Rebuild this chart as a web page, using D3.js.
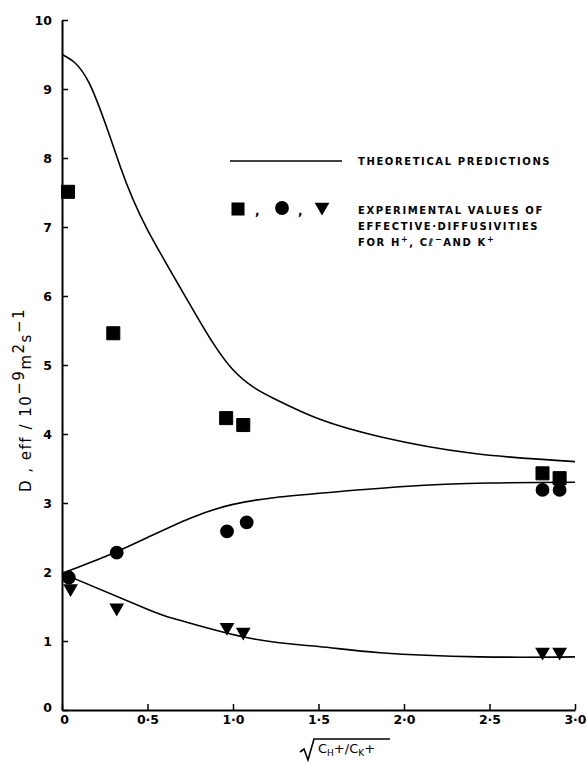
<!DOCTYPE html>
<html>
<head>
<meta charset="utf-8">
<script src="https://cdn.jsdelivr.net/npm/d3@7"></script>
<style>
  html, body { margin: 0; padding: 0; background: #fff; }
  svg { display: block; }
  text { font-family: "DejaVu Sans", "Liberation Sans", sans-serif; fill: #000; }
</style>
</head>
<body>
<svg id="chart" width="586" height="764"></svg>
<script>
// ---- data ----
const xTicks = [0, 0.5, 1.0, 1.5, 2.0, 2.5, 3.0];
const xTickLabels = ["0", "0·5", "1·0", "1·5", "2·0", "2·5", "3·0"];
const yTicks = [0, 1, 2, 3, 4, 5, 6, 7, 8, 9, 10];
const yTickLabels = ["0", "1", "2", "3", "4", "5", "6", "7", "8", "9", "10"];

// theoretical predictions
const theoHx = [0, 0.16, 0.34, 0.5, 0.75, 1.0, 1.25, 1.5, 1.86, 2.4, 3.0];
const theoHy = [9.5, 9.08, 7.88, 6.96, 5.87, 4.93, 4.5, 4.22, 3.96, 3.72, 3.6];
const theoClx = [0, 0.25, 0.5, 0.75, 1.0, 1.25, 1.5, 2.0, 2.5, 3.0];
const theoCly = [1.98, 2.22, 2.5, 2.78, 2.98, 3.08, 3.14, 3.24, 3.29, 3.3];
const theoKx = [0, 0.51, 0.69, 1.1, 1.5, 1.86, 2.44, 3.0];
const theoKy = [1.98, 1.45, 1.3, 1.04, 0.92, 0.83, 0.77, 0.77];

// experimental values
const expHx = [0.035, 0.30, 0.96, 1.06, 2.81, 2.91];
const expHy = [7.51, 5.46, 4.23, 4.13, 3.43, 3.36];
const expClx = [0.04, 0.32, 0.965, 1.08, 2.81, 2.91];
const expCly = [1.92, 2.28, 2.59, 2.72, 3.19, 3.19];
const expKx = [0.05, 0.32, 0.965, 1.06, 2.81, 2.91];
const expKy = [1.76, 1.48, 1.2, 1.13, 0.84, 0.84];

// ---- drawing ----
const svg = d3.select("#chart");
const x = d3.scaleLinear().domain([0, 3]).range([62, 575]);
const y = d3.scaleLinear().domain([0, 10]).range([710, 20]);

const zip = (xs, ys) => xs.map((v, i) => [v, ys[i]]);

// axes
const xAxis = d3.axisBottom(x).tickValues(xTicks)
  .tickFormat((d, i) => xTickLabels[i]).tickSizeInner(-6).tickSizeOuter(0).tickPadding(5);
const yAxis = d3.axisLeft(y).tickValues(yTicks)
  .tickFormat((d, i) => yTickLabels[i]).tickSizeInner(-6).tickSizeOuter(0).tickPadding(10);

const gx = svg.append("g").attr("transform", `translate(0,${y(0)})`).call(xAxis);
const gy = svg.append("g").attr("transform", `translate(${x(0)},0)`).call(yAxis);
[gx, gy].forEach(g => {
  g.select(".domain").attr("stroke", "#000").attr("stroke-width", 2);
  g.selectAll(".tick line").attr("stroke", "#000").attr("stroke-width", 1.5);
  g.selectAll(".tick text").attr("font-size", 12.5).attr("font-weight", "bold")
    .attr("font-family", "DejaVu Sans, sans-serif").attr("fill", "#000");
});
gx.selectAll(".tick").filter(d => d === 0).select("text").attr("dx", 2);
gy.selectAll(".tick").filter(d => d === 0).select("text").attr("dy", "0.1em");

// curves
const line = d3.line().x(d => x(d[0])).y(d => y(d[1])).curve(d3.curveNatural);
[[theoHx, theoHy], [theoClx, theoCly], [theoKx, theoKy]].forEach(([xs, ys]) => {
  svg.append("path").datum(zip(xs, ys)).attr("d", line)
    .attr("fill", "none").attr("stroke", "#000").attr("stroke-width", 1.6);
});

// markers
const sq = d3.symbol().type(d3.symbolSquare).size(170);
const ci = d3.symbol().type(d3.symbolCircle).size(150);
const tri = d3.symbol().type(d3.symbolTriangle).size(95);

svg.append("g").selectAll("path").data(zip(expHx, expHy)).join("path")
  .attr("d", sq).attr("transform", d => `translate(${x(d[0])},${y(d[1])})`)
  .attr("fill", "#000").attr("stroke", "#000").attr("stroke-width", 1).attr("stroke-linejoin", "round");
svg.append("g").selectAll("path").data(zip(expClx, expCly)).join("path")
  .attr("d", ci).attr("transform", d => `translate(${x(d[0])},${y(d[1])})`).attr("fill", "#000");
svg.append("g").selectAll("path").data(zip(expKx, expKy)).join("path")
  .attr("d", tri).attr("transform", d => `translate(${x(d[0])},${y(d[1])}) rotate(180)`).attr("fill", "#000");

// legend
const lg = svg.append("g");
lg.append("line").attr("x1", 230).attr("x2", 342).attr("y1", 161).attr("y2", 161)
  .attr("stroke", "#000").attr("stroke-width", 1.6);
const legendText = (tx, ty, str) => lg.append("text").attr("x", tx).attr("y", ty)
  .attr("font-size", 10).attr("font-weight", "bold").attr("letter-spacing", 1.6).text(str);
legendText(358, 165, "THEORETICAL PREDICTIONS");

lg.append("path").attr("d", sq).attr("transform", "translate(238,209)").attr("fill", "#000");
lg.append("text").attr("x", 255).attr("y", 215).attr("font-size", 12).attr("font-weight", "bold").text(",");
lg.append("path").attr("d", ci).attr("transform", "translate(282,208)").attr("fill", "#000");
lg.append("text").attr("x", 298).attr("y", 215).attr("font-size", 12).attr("font-weight", "bold").text(",");
lg.append("path").attr("d", tri).attr("transform", "translate(322,207) rotate(180)").attr("fill", "#000");

legendText(358, 214, "EXPERIMENTAL VALUES OF");
legendText(358, 230, "EFFECTIVE·DIFFUSIVITIES");
const t3 = lg.append("text").attr("x", 358).attr("y", 246)
  .attr("font-size", 10).attr("font-weight", "bold").attr("letter-spacing", 1.6);
t3.append("tspan").text("FOR H");
t3.append("tspan").attr("dy", -4).attr("font-size", 8).text("+");
t3.append("tspan").attr("dy", 4).text(", Cℓ");
t3.append("tspan").attr("dy", -4).attr("font-size", 8).text("−");
t3.append("tspan").attr("dy", 4).text("AND K");
t3.append("tspan").attr("dy", -4).attr("font-size", 8).text("+");

// y axis title
const yt = svg.append("text").attr("transform", "translate(31,400) rotate(-90)")
  .attr("text-anchor", "middle").attr("font-size", 15).attr("letter-spacing", 1.5);
yt.append("tspan").text("D , eff / 10");
yt.append("tspan").attr("dy", -7).text("−9");
yt.append("tspan").attr("dy", 7).text("m");
yt.append("tspan").attr("dy", -7).text("2");
yt.append("tspan").attr("dy", 7).text("s");
yt.append("tspan").attr("dy", -7).text("−1");

// x axis title (square root of C_H+/C_K+)
const xt = svg.append("g");
xt.append("path").attr("d", "M300,752 L304,749 L308,760 L314,739 L390,739")
  .attr("fill", "none").attr("stroke", "#000").attr("stroke-width", 1.6);
const xtt = xt.append("text").attr("x", 318).attr("y", 753).attr("font-size", 13);
xtt.append("tspan").text("C");
xtt.append("tspan").attr("dy", 3).attr("font-size", 9).text("H");
xtt.append("tspan").attr("dy", -3).text("+/C");
xtt.append("tspan").attr("dy", 3).attr("font-size", 9).text("K");
xtt.append("tspan").attr("dy", -3).text("+");
</script>
</body>
</html>
